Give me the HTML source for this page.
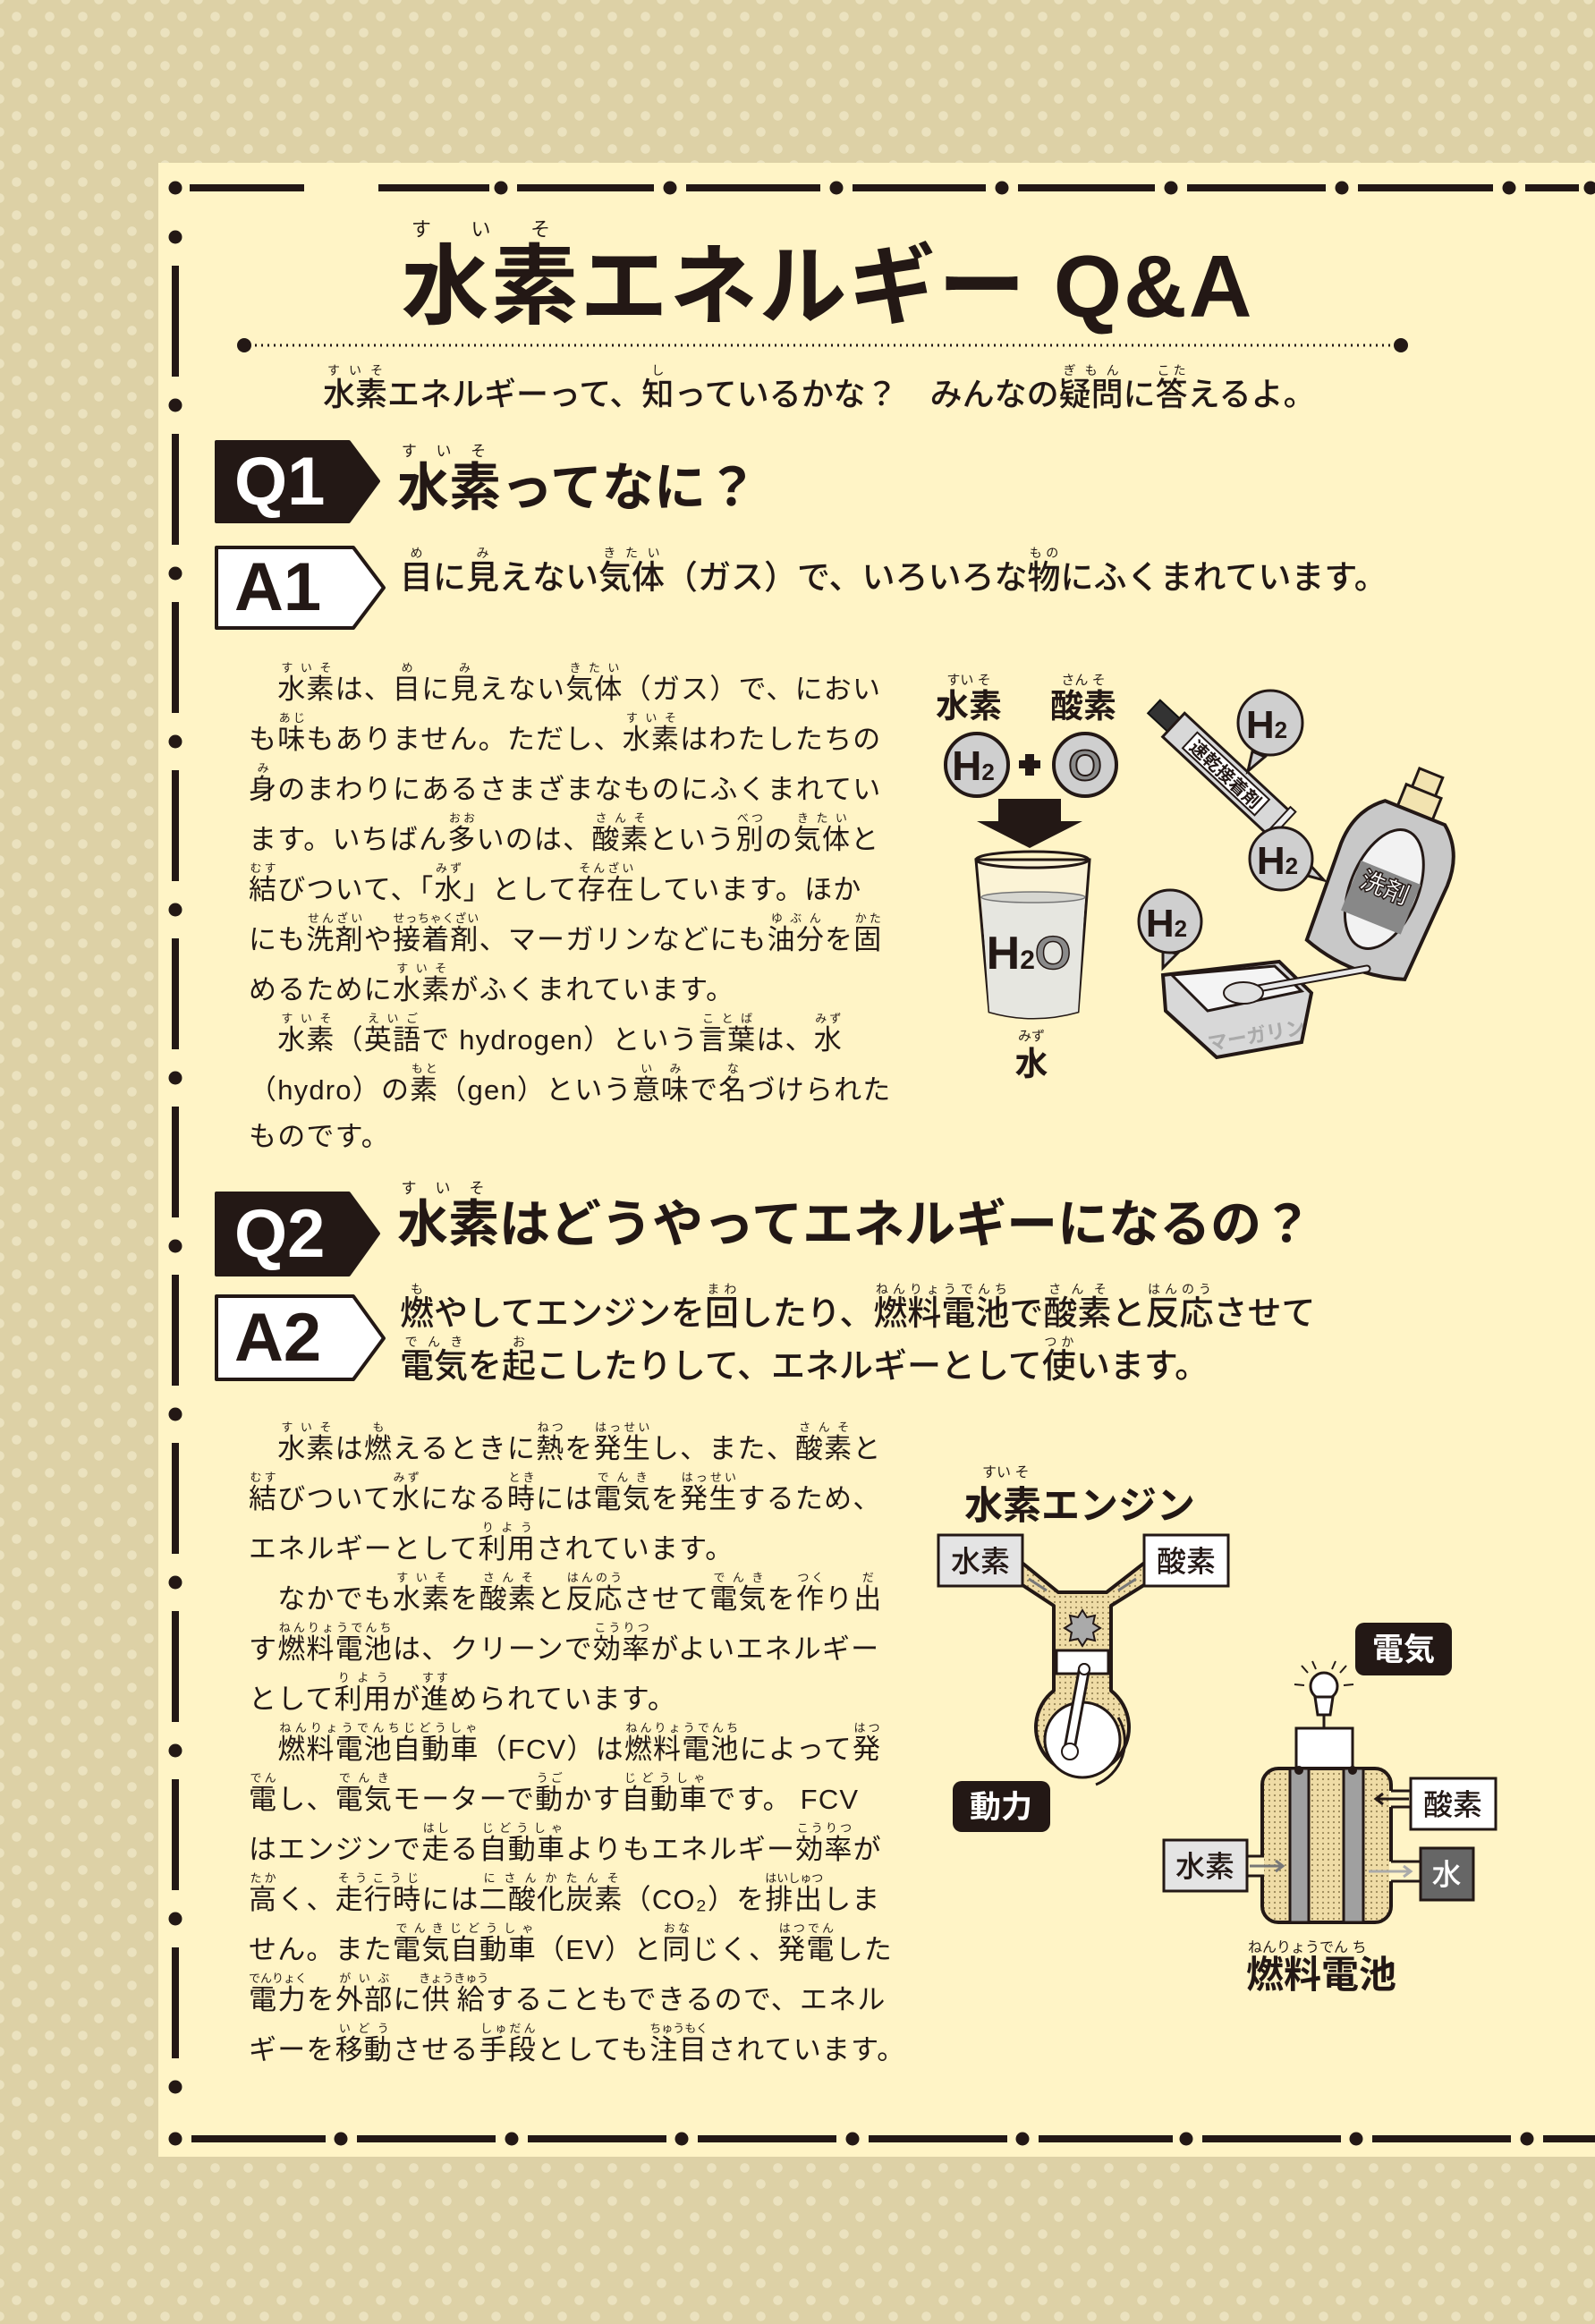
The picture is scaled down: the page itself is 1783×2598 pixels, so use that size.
<!DOCTYPE html>
<html><head><meta charset="utf-8">
<style>
*{margin:0;padding:0;box-sizing:border-box}
html,body{width:1783px;height:2598px;overflow:hidden}
body{position:relative;background-color:#ddd1a6;
background-image:radial-gradient(circle,#ebe2bf 5px,transparent 5.5px),radial-gradient(circle,#ebe2bf 5px,transparent 5.5px);
background-size:37px 37px,37px 37px;background-position:0 0,18px 18px;
font-family:"Liberation Sans","Noto Sans CJK JP",sans-serif;color:#231815}
#panel{position:absolute;left:177px;top:182px;width:1606px;height:2229px;background:#fff4c6}
.a{position:absolute;white-space:nowrap}
rt{font-size:14px;font-weight:400}
.t{font-weight:700}
.body div{height:56px;line-height:56px;font-size:31px;letter-spacing:1.2px;font-weight:400}
.body rt{font-size:13px;letter-spacing:0}
</style></head><body>
<div id="panel"></div>

<svg class="a" style="left:0;top:0" width="1783" height="2598">
<g fill="#231815" stroke="none">
<circle cx="196" cy="210" r="7.5"/>
<rect x="212" y="206" width="128" height="8"/>
<rect x="423" y="206" width="124" height="8"/>
<circle cx="560" cy="210" r="7.5"/><rect x="578" y="206" width="153" height="8"/>
<circle cx="749" cy="210" r="7.5"/><rect x="767" y="206" width="150" height="8"/>
<circle cx="935" cy="210" r="7.5"/><rect x="953" y="206" width="149" height="8"/>
<circle cx="1120" cy="210" r="7.5"/><rect x="1138" y="206" width="153" height="8"/>
<circle cx="1309" cy="210" r="7.5"/><rect x="1327" y="206" width="155" height="8"/>
<circle cx="1500" cy="210" r="7.5"/><rect x="1518" y="206" width="151" height="8"/>
<circle cx="1687" cy="210" r="7.5"/><rect x="1705" y="206" width="60" height="8"/>
<circle cx="1778" cy="210" r="7.5"/>
</g>
<g fill="#231815">
<circle cx="196" cy="265" r="7.5"/><rect x="192" y="297" width="8" height="124"/>
<circle cx="196" cy="453" r="7.5"/><rect x="192" y="485" width="8" height="124"/>
<circle cx="196" cy="641" r="7.5"/><rect x="192" y="673" width="8" height="124"/>
<circle cx="196" cy="829" r="7.5"/><rect x="192" y="861" width="8" height="124"/>
<circle cx="196" cy="1017" r="7.5"/><rect x="192" y="1049" width="8" height="124"/>
<circle cx="196" cy="1205" r="7.5"/><rect x="192" y="1237" width="8" height="124"/>
<circle cx="196" cy="1393" r="7.5"/><rect x="192" y="1425" width="8" height="124"/>
<circle cx="196" cy="1581" r="7.5"/><rect x="192" y="1613" width="8" height="124"/>
<circle cx="196" cy="1769" r="7.5"/><rect x="192" y="1801" width="8" height="124"/>
<circle cx="196" cy="1957" r="7.5"/><rect x="192" y="1989" width="8" height="124"/>
<circle cx="196" cy="2145" r="7.5"/><rect x="192" y="2177" width="8" height="124"/>
<circle cx="196" cy="2333" r="7.5"/>
</g>
<g fill="#231815">
<circle cx="196" cy="2391" r="7.5"/><rect x="214" y="2387" width="150" height="8"/>
<circle cx="381" cy="2391" r="7.5"/><rect x="399" y="2387" width="155" height="8"/>
<circle cx="572" cy="2391" r="7.5"/><rect x="590" y="2387" width="155" height="8"/>
<circle cx="762" cy="2391" r="7.5"/><rect x="780" y="2387" width="155" height="8"/>
<circle cx="953" cy="2391" r="7.5"/><rect x="971" y="2387" width="155" height="8"/>
<circle cx="1143" cy="2391" r="7.5"/><rect x="1161" y="2387" width="150" height="8"/>
<circle cx="1326" cy="2391" r="7.5"/><rect x="1344" y="2387" width="155" height="8"/>
<circle cx="1516" cy="2391" r="7.5"/><rect x="1534" y="2387" width="155" height="8"/>
<circle cx="1707" cy="2391" r="7.5"/><rect x="1725" y="2387" width="58" height="8"/>
</g>
<circle cx="273" cy="386" r="8" fill="#231815"/>
<circle cx="1566" cy="386" r="8" fill="#231815"/>
<line x1="285" y1="386" x2="1556" y2="386" stroke="#231815" stroke-width="3" stroke-dasharray="2 5"/>
<polygon points="242,494 390,494 423,538 390,583 242,583" fill="#231815" stroke="#231815" stroke-width="4" stroke-linejoin="round"/>
<polygon points="242,612 395,612 429,657 395,702 242,702" fill="#fff" stroke="#231815" stroke-width="4" stroke-linejoin="round"/>
<polygon points="242,1334 390,1334 423,1379 390,1425 242,1425" fill="#231815" stroke="#231815" stroke-width="4" stroke-linejoin="round"/>
<polygon points="242,1449 395,1449 429,1496 395,1542 242,1542" fill="#fff" stroke="#231815" stroke-width="4" stroke-linejoin="round"/>
</svg>

<div class="a t" style="left:262px;top:494px;height:89px;line-height:89px;font-size:76px;color:#fff;font-family:'Liberation Sans',sans-serif">Q1</div>
<div class="a t" style="left:262px;top:612px;height:90px;line-height:90px;font-size:76px;font-family:'Liberation Sans',sans-serif">A1</div>
<div class="a t" style="left:262px;top:1334px;height:91px;line-height:91px;font-size:76px;color:#fff;font-family:'Liberation Sans',sans-serif">Q2</div>
<div class="a t" style="left:262px;top:1449px;height:93px;line-height:93px;font-size:76px;font-family:'Liberation Sans',sans-serif">A2</div>

<div class="a t" style="left:0;width:1850px;text-align:center;top:244px;line-height:110px;font-size:98px;letter-spacing:2px"><ruby>水素<rt style="font-size:22px;letter-spacing:22px">すいそ</rt></ruby>エネルギー Q&amp;A</div>

<div class="a" style="left:361px;top:406px;line-height:50px;font-size:36px;font-weight:500"><ruby>水素<rt>すいそ</rt></ruby>エネルギーって、<ruby>知<rt>し</rt></ruby>っているかな？　みんなの<ruby>疑問<rt>ぎもん</rt></ruby>に<ruby>答<rt>こた</rt></ruby>えるよ。</div>

<div class="a t" style="left:444px;top:495px;line-height:74px;font-size:58px"><ruby>水素<rt style="font-size:17px;letter-spacing:12px">すいそ</rt></ruby>ってなに？</div>
<div class="a" style="left:447px;top:610px;line-height:50px;font-size:37px;font-weight:500"><ruby>目<rt>め</rt></ruby>に<ruby>見<rt>み</rt></ruby>えない<ruby>気体<rt>きたい</rt></ruby>（ガス）で、いろいろな<ruby>物<rt>もの</rt></ruby>にふくまれています。</div>

<div class="a t" style="left:444px;top:1319px;line-height:74px;font-size:57px"><ruby>水素<rt style="font-size:17px;letter-spacing:12px">すいそ</rt></ruby>はどうやってエネルギーになるの？</div>
<div class="a" style="left:447px;top:1433px;line-height:50px;font-size:38px;font-weight:500"><ruby>燃<rt>も</rt></ruby>やしてエンジンを<ruby>回<rt>まわ</rt></ruby>したり、<ruby>燃料電池<rt>ねんりょうでんち</rt></ruby>で<ruby>酸素<rt>さんそ</rt></ruby>と<ruby>反応<rt>はんのう</rt></ruby>させて</div>
<div class="a" style="left:447px;top:1492px;line-height:50px;font-size:38px;font-weight:500"><ruby>電気<rt>でんき</rt></ruby>を<ruby>起<rt>お</rt></ruby>こしたりして、エネルギーとして<ruby>使<rt>つか</rt></ruby>います。</div>

<div class="a body" style="left:278px;top:739px">
<div>　<ruby>水素<rt>すいそ</rt></ruby>は、<ruby>目<rt>め</rt></ruby>に<ruby>見<rt>み</rt></ruby>えない<ruby>気体<rt>きたい</rt></ruby>（ガス）で、におい</div>
<div>も<ruby>味<rt>あじ</rt></ruby>もありません。ただし、<ruby>水素<rt>すいそ</rt></ruby>はわたしたちの</div>
<div><ruby>身<rt>み</rt></ruby>のまわりにあるさまざまなものにふくまれてい</div>
<div>ます。いちばん<ruby>多<rt>おお</rt></ruby>いのは、<ruby>酸素<rt>さんそ</rt></ruby>という<ruby>別<rt>べつ</rt></ruby>の<ruby>気体<rt>きたい</rt></ruby>と</div>
<div><ruby>結<rt>むす</rt></ruby>びついて、「<ruby>水<rt>みず</rt></ruby>」として<ruby>存在<rt>そんざい</rt></ruby>しています。ほか</div>
<div>にも<ruby>洗剤<rt>せんざい</rt></ruby>や<ruby>接着剤<rt>せっちゃくざい</rt></ruby>、マーガリンなどにも<ruby>油分<rt>ゆぶん</rt></ruby>を<ruby>固<rt>かた</rt></ruby></div>
<div>めるために<ruby>水素<rt>すいそ</rt></ruby>がふくまれています。</div>
<div>　<ruby>水素<rt>すいそ</rt></ruby>（<ruby>英語<rt>えいご</rt></ruby>で hydrogen）という<ruby>言葉<rt>ことば</rt></ruby>は、<ruby>水<rt>みず</rt></ruby></div>
<div>（hydro）の<ruby>素<rt>もと</rt></ruby>（gen）という<ruby>意味<rt>いみ</rt></ruby>で<ruby>名<rt>な</rt></ruby>づけられた</div>
<div>ものです。</div>
</div>

<div class="a body" style="left:278px;top:1588px">
<div>　<ruby>水素<rt>すいそ</rt></ruby>は<ruby>燃<rt>も</rt></ruby>えるときに<ruby>熱<rt>ねつ</rt></ruby>を<ruby>発生<rt>はっせい</rt></ruby>し、また、<ruby>酸素<rt>さんそ</rt></ruby>と</div>
<div><ruby>結<rt>むす</rt></ruby>びついて<ruby>水<rt>みず</rt></ruby>になる<ruby>時<rt>とき</rt></ruby>には<ruby>電気<rt>でんき</rt></ruby>を<ruby>発生<rt>はっせい</rt></ruby>するため、</div>
<div>エネルギーとして<ruby>利用<rt>りよう</rt></ruby>されています。</div>
<div>　なかでも<ruby>水素<rt>すいそ</rt></ruby>を<ruby>酸素<rt>さんそ</rt></ruby>と<ruby>反応<rt>はんのう</rt></ruby>させて<ruby>電気<rt>でんき</rt></ruby>を<ruby>作<rt>つく</rt></ruby>り<ruby>出<rt>だ</rt></ruby></div>
<div>す<ruby>燃料電池<rt>ねんりょうでんち</rt></ruby>は、クリーンで<ruby>効率<rt>こうりつ</rt></ruby>がよいエネルギー</div>
<div>として<ruby>利用<rt>りよう</rt></ruby>が<ruby>進<rt>すす</rt></ruby>められています。</div>
<div>　<ruby>燃料電池自動車<rt>ねんりょうでんちじどうしゃ</rt></ruby>（FCV）は<ruby>燃料電池<rt>ねんりょうでんち</rt></ruby>によって<ruby>発<rt>はつ</rt></ruby></div>
<div><ruby>電<rt>でん</rt></ruby>し、<ruby>電気<rt>でんき</rt></ruby>モーターで<ruby>動<rt>うご</rt></ruby>かす<ruby>自動車<rt>じどうしゃ</rt></ruby>です。 FCV</div>
<div>はエンジンで<ruby>走<rt>はし</rt></ruby>る<ruby>自動車<rt>じどうしゃ</rt></ruby>よりもエネルギー<ruby>効率<rt>こうりつ</rt></ruby>が</div>
<div><ruby>高<rt>たか</rt></ruby>く、<ruby>走行時<rt>そうこうじ</rt></ruby>には<ruby>二酸化炭素<rt>にさんかたんそ</rt></ruby>（CO₂）を<ruby>排出<rt>はいしゅつ</rt></ruby>しま</div>
<div>せん。また<ruby>電気自動車<rt>でんきじどうしゃ</rt></ruby>（EV）と<ruby>同<rt>おな</rt></ruby>じく、<ruby>発電<rt>はつでん</rt></ruby>した</div>
<div><ruby>電力<rt>でんりょく</rt></ruby>を<ruby>外部<rt>がいぶ</rt></ruby>に<ruby>供給<rt>きょうきゅう</rt></ruby>することもできるので、エネル</div>
<div>ギーを<ruby>移動<rt>いどう</rt></ruby>させる<ruby>手段<rt>しゅだん</rt></ruby>としても<ruby>注目<rt>ちゅうもく</rt></ruby>されています。</div>
</div>

<svg class="a" style="left:0;top:0" width="1783" height="2598" font-family="Liberation Sans, Noto Sans CJK JP, sans-serif">
<defs>
<pattern id="dt" width="6" height="6" patternUnits="userSpaceOnUse"><rect width="6" height="6" fill="#efdca6"/><circle cx="3" cy="3" r="1.1" fill="#9a8758"/></pattern>
</defs>
<text x="1083" y="765" font-size="15" text-anchor="middle" fill="#231815">すい そ</text>
<text x="1083" y="802" font-size="37" font-weight="700" text-anchor="middle" fill="#231815">水素</text>
<text x="1211" y="765" font-size="15" text-anchor="middle" fill="#231815">さん そ</text>
<text x="1211" y="802" font-size="37" font-weight="700" text-anchor="middle" fill="#231815">酸素</text>
<circle cx="1092" cy="855" r="35" fill="#cfcfcf" stroke="#231815" stroke-width="4"/>
<text x="1088" y="872" font-size="46" font-weight="700" text-anchor="middle" fill="#231815">H<tspan font-size="26">2</tspan></text>
<rect x="1139" y="850" width="24" height="9" fill="#231815"/><rect x="1146" y="843" width="10" height="24" fill="#231815"/>
<circle cx="1213" cy="855" r="35" fill="#cfcfcf" stroke="#231815" stroke-width="4"/>
<text x="1213" y="872" font-size="48" font-weight="700" text-anchor="middle" fill="#8a8a8a" stroke="#231815" stroke-width="2">O</text>
<polygon points="1116,893 1186,893 1186,918 1210,918 1151,948 1092,918 1116,918" fill="#231815"/>
<path d="M1091,961 L1106,1131 Q1155,1145 1205,1131 L1218,961 Z" fill="#fbf3d6" stroke="#231815" stroke-width="3"/>
<path d="M1097,1003 L1106,1131 Q1155,1145 1205,1131 L1213,1003 Z" fill="#e6e6e0"/>
<ellipse cx="1155" cy="1003" rx="58" ry="6" fill="#d6d6d0" stroke="#777" stroke-width="1.5"/>
<ellipse cx="1154" cy="961" rx="63" ry="9" fill="none" stroke="#231815" stroke-width="3"/>
<text x="1150" y="1083" font-size="52" font-weight="700" text-anchor="middle" fill="#231815">H<tspan font-size="30">2</tspan><tspan fill="#8a8a8a" stroke="#231815" stroke-width="1.5">O</tspan></text>
<text x="1153" y="1163" font-size="15" text-anchor="middle" fill="#231815">みず</text>
<text x="1153" y="1202" font-size="37" font-weight="700" text-anchor="middle" fill="#231815">水</text>
<g transform="translate(1290,790) rotate(43)">
<rect x="0" y="-10" width="30" height="20" fill="#333" stroke="#111" stroke-width="2"/>
<rect x="30" y="-18" width="160" height="36" fill="#d8d8d8" stroke="#231815" stroke-width="3"/>
<rect x="55" y="-12" width="110" height="24" fill="#fff" stroke="#231815" stroke-width="2"/>
<text x="110" y="8" font-size="20" font-weight="700" text-anchor="middle" fill="#231815">速乾接着剤</text>
<rect x="188" y="-22" width="8" height="44" fill="#eee" stroke="#231815" stroke-width="2"/>
</g>
<g fill="#cfcfcf" stroke="#231815" stroke-width="3">
<path d="M1400,840 L1395,862 L1414,846 Z"/>
<circle cx="1420" cy="808" r="36"/>
<path d="M1458,978 L1480,984 L1460,962 Z"/>
<circle cx="1432" cy="960" r="35"/>
<path d="M1300,1063 L1300,1082 L1316,1066 Z"/>
<circle cx="1308" cy="1030" r="35"/>
</g>
<g font-size="44" font-weight="700" text-anchor="middle" fill="#231815">
<text x="1416" y="825">H<tspan font-size="26">2</tspan></text>
<text x="1428" y="977">H<tspan font-size="26">2</tspan></text>
<text x="1304" y="1047">H<tspan font-size="26">2</tspan></text>
</g>
<g transform="translate(1527,975) rotate(22)">
<rect x="12" y="-130" width="28" height="28" fill="#f2e3b0" stroke="#231815" stroke-width="3"/>
<rect x="5" y="-108" width="42" height="26" fill="#f2e3b0" stroke="#231815" stroke-width="3"/>
<path d="M-10,-82 L62,-82 Q90,-60 90,-20 L85,95 Q26,115 -33,95 L-38,-20 Q-38,-60 -10,-82 Z" fill="#c8c8c8" stroke="#231815" stroke-width="4"/>
<ellipse cx="26" cy="10" rx="38" ry="70" fill="#f2f2f2" stroke="#231815" stroke-width="3"/>
<path d="M-10,-10 L62,-10 L62,50 L-10,50 Z" fill="#888"/>
<text x="26" y="18" font-size="28" font-weight="700" text-anchor="middle" fill="#fff" stroke="#231815" stroke-width="1.5">洗剤</text>
</g>
<path d="M1300,1090 L1430,1075 L1466,1110 L1455,1165 L1360,1182 L1303,1130 Z" fill="#d8d8d8" stroke="#231815" stroke-width="4"/>
<path d="M1310,1090 L1425,1080 L1455,1108 L1350,1130 Z" fill="#f4f4f4" stroke="#231815" stroke-width="3"/>
<path d="M1390,1108 L1528,1083" stroke="#231815" stroke-width="9" stroke-linecap="round"/>
<path d="M1390,1108 L1528,1083" stroke="#e8e8e8" stroke-width="5" stroke-linecap="round"/>
<ellipse cx="1390" cy="1110" rx="22" ry="12" fill="#e0e0e0" stroke="#231815" stroke-width="2"/>
<text x="1405" y="1165" font-size="22" font-weight="700" text-anchor="middle" fill="#aaa" transform="rotate(-10 1405 1160)">マーガリン</text>
</svg>

<svg class="a" style="left:0;top:0" width="1783" height="2598" font-family="Liberation Sans, Noto Sans CJK JP, sans-serif">
<text x="1098" y="1651" font-size="16" fill="#231815">すい  そ</text>
<text x="1078" y="1698" font-size="43" font-weight="700" fill="#231815">水素エンジン</text>
<path d="M1140,1770 L1178,1795 L1178,1890 A52,52 0 1 0 1242,1890 L1242,1795 L1282,1770 L1282,1745 L1237,1780 L1183,1780 L1140,1745 Z" fill="url(#dt)" stroke="#231815" stroke-width="4" stroke-linejoin="round"/>
<line x1="1150" y1="1765" x2="1170" y2="1778" stroke="#777" stroke-width="3"/>
<line x1="1270" y1="1765" x2="1250" y2="1778" stroke="#777" stroke-width="3"/>
<polygon points="1210,1800 1215,1808 1224,1806 1222,1815 1230,1820 1222,1825 1224,1834 1215,1832 1210,1840 1205,1832 1196,1834 1198,1825 1190,1820 1198,1815 1196,1806 1205,1808" fill="#aaa" stroke="#231815" stroke-width="2"/>
<rect x="1181" y="1845" width="58" height="26" fill="#fff" stroke="#231815" stroke-width="3"/>
<circle cx="1210" cy="1945" r="42" fill="#fff" stroke="#231815" stroke-width="3"/>
<path d="M1225,1995 A52,52 0 0 0 1250,1920" fill="none" stroke="#231815" stroke-width="3"/>
<line x1="1212" y1="1866" x2="1195" y2="1958" stroke="#231815" stroke-width="14" stroke-linecap="round"/>
<line x1="1212" y1="1866" x2="1195" y2="1958" stroke="#fff" stroke-width="8" stroke-linecap="round"/>
<circle cx="1212" cy="1866" r="6" fill="#fff" stroke="#231815" stroke-width="2"/>
<circle cx="1196" cy="1958" r="9" fill="#fff" stroke="#231815" stroke-width="2"/>
<rect x="1049" y="1716" width="94" height="57" fill="#e4e4e4" stroke="#231815" stroke-width="3"/>
<text x="1096" y="1757" font-size="33" font-weight="500" text-anchor="middle" fill="#231815">水素</text>
<rect x="1279" y="1716" width="94" height="57" fill="#fff" stroke="#231815" stroke-width="3"/>
<text x="1326" y="1757" font-size="33" font-weight="500" text-anchor="middle" fill="#231815">酸素</text>
<rect x="1065" y="1991" width="109" height="57" rx="10" fill="#231815"/>
<text x="1119" y="2032" font-size="35" font-weight="700" text-anchor="middle" fill="#fff">動力</text>
<rect x="1515" y="1814" width="108" height="59" rx="10" fill="#231815"/>
<text x="1569" y="1856" font-size="35" font-weight="700" text-anchor="middle" fill="#fff">電気</text>
<g stroke="#231815" stroke-width="2">
<line x1="1455" y1="1862" x2="1462" y2="1870"/><line x1="1467" y1="1857" x2="1471" y2="1866"/><line x1="1493" y1="1857" x2="1489" y2="1866"/><line x1="1505" y1="1862" x2="1498" y2="1870"/><line x1="1447" y1="1883" x2="1458" y2="1884"/><line x1="1513" y1="1883" x2="1502" y2="1884"/>
</g>
<circle cx="1480" cy="1885" r="15" fill="#fff" stroke="#231815" stroke-width="3"/>
<path d="M1470,1897 L1490,1897 L1487,1917 L1473,1917 Z" fill="#fff" stroke="#231815" stroke-width="3"/>
<line x1="1480" y1="1917" x2="1480" y2="1932" stroke="#231815" stroke-width="3"/>
<rect x="1449" y="1932" width="63" height="45" fill="#fff" stroke="#231815" stroke-width="3"/>
<rect x="1411" y="1977" width="144" height="172" rx="18" fill="url(#dt)" stroke="#231815" stroke-width="4"/>
<rect x="1442" y="1977" width="21" height="172" fill="#a0a0a0" stroke="#231815" stroke-width="3"/>
<rect x="1502" y="1977" width="22" height="172" fill="#a0a0a0" stroke="#231815" stroke-width="3"/>
<circle cx="1452" cy="1979" r="5" fill="#231815"/><circle cx="1512" cy="1979" r="5" fill="#231815"/>
<rect x="1553" y="2002" width="26" height="18" fill="#fff4c6"/>
<line x1="1555" y1="2002" x2="1577" y2="2002" stroke="#231815" stroke-width="3"/>
<line x1="1555" y1="2020" x2="1577" y2="2020" stroke="#231815" stroke-width="3"/>
<rect x="1553" y="2081" width="36" height="22" fill="#fff4c6"/>
<line x1="1555" y1="2081" x2="1588" y2="2081" stroke="#231815" stroke-width="3"/>
<line x1="1555" y1="2103" x2="1588" y2="2103" stroke="#231815" stroke-width="3"/>
<rect x="1393" y="2075" width="20" height="22" fill="#fff4c6"/>
<line x1="1394" y1="2075" x2="1413" y2="2075" stroke="#231815" stroke-width="3"/>
<line x1="1394" y1="2097" x2="1413" y2="2097" stroke="#231815" stroke-width="3"/>
<path d="M1575,2011 L1540,2011 M1546,2005 L1538,2011 L1546,2017" stroke="#231815" stroke-width="3" fill="none"/>
<path d="M1397,2086 L1432,2086 M1426,2080 L1434,2086 L1426,2092" stroke="#777" stroke-width="3" fill="none"/>
<path d="M1530,2092 L1575,2092 M1569,2086 L1577,2092 L1569,2098" stroke="#aaa" stroke-width="3" fill="none"/>
<rect x="1577" y="1988" width="95" height="57" fill="#fff" stroke="#231815" stroke-width="3"/>
<text x="1624" y="2029" font-size="33" font-weight="500" text-anchor="middle" fill="#231815">酸素</text>
<rect x="1301" y="2057" width="93" height="57" fill="#e4e4e4" stroke="#231815" stroke-width="3"/>
<text x="1347" y="2098" font-size="33" font-weight="500" text-anchor="middle" fill="#231815">水素</text>
<rect x="1588" y="2066" width="59" height="58" fill="#666" stroke="#231815" stroke-width="3"/>
<text x="1617" y="2107" font-size="33" font-weight="500" text-anchor="middle" fill="#fff">水</text>
<text x="1395" y="2182" font-size="16" fill="#231815">ねんりょうでん  ち</text>
<text x="1393" y="2222" font-size="42" font-weight="700" fill="#231815">燃料電池</text>
</svg>
</body></html>
